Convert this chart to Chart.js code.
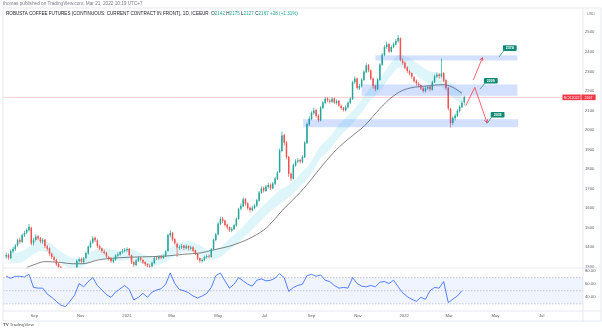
<!DOCTYPE html>
<html>
<head>
<meta charset="utf-8">
<script src="https://cdn.jsdelivr.net/npm/chart.js@4.4.0/dist/chart.umd.min.js"></script>
<style>
  html, body { margin: 0; padding: 0; background: #fff; }
  #wrap { position: relative; width: 602px; height: 332px; overflow: hidden; font-family: "Liberation Sans", Arial, sans-serif; }
  #c { position: absolute; left: 0; top: 0; }
  .t { position: absolute; white-space: nowrap; line-height: 1; }
  .g { color: #26a69a; }
</style>
</head>
<body>
<div id="wrap">
  <canvas id="c" width="602" height="332"></canvas>
  <div class="t" style="left:3px; top:1.8px; font-size:4.7px; color:#787b86;">thomas published on TradingView.com, Mar 21, 2022 10:19 UTC+7</div>
  <div class="t" style="left:6px; top:12px; font-size:4.6px; color:#131722;">ROBUSTA COFFEE FUTURES (CONTINUOUS: CURRENT CONTRACT IN FRONT), 1D, ICEEUR&nbsp; O<span class="g">2142</span> H<span class="g">2175</span> L<span class="g">2127</span> C<span class="g">2167</span> <span class="g">+28 (+1.31%)</span></div>
  <div class="t" style="left:587px; top:12.5px; font-size:3.8px; color:#787b86;">USD</div>
  <div class="t" style="left:3px; top:323px; font-size:4.4px; color:#555;"><b>TV</b> TradingView</div>
</div>
<script>
// Robusta coffee futures, daily chart (sampled every 3 days), Jul 2020 - Mar 2022
// x values are days counted from 1 Sep 2020
const startDay = -37;
const stepDays = 3;

const opens = [
  1352,1362,1344,1378,1390,1410,1438,1426,1460,1474,
  1486,1500,1420,1436,1456,1446,1428,1438,1404,1394,
  1366,1348,1336,1314,1300,1282,1270,1256,1264,1248,
  1268,1280,1328,1340,1324,1344,1368,1400,1424,1448,
  1434,1406,1394,1378,1372,1350,1344,1326,1334,1356,
  1362,1376,1380,1384,1392,1358,1324,1308,1330,1346,
  1334,1324,1314,1304,1302,1318,1346,1342,1352,1344,
  1356,1380,1460,1474,1440,1418,1396,1398,1408,1394,
  1406,1392,1400,1384,1366,1344,1328,1334,1348,1356,
  1350,1388,1436,1466,1518,1546,1536,1516,1502,1484,
  1492,1510,1544,1596,1610,1646,1624,1602,1588,1600,
  1612,1638,1678,1702,1688,1708,1720,1700,1724,1750,
  1784,1892,1974,1936,1862,1776,1750,1818,1838,1846,
  1836,1860,1932,2028,2056,2086,2102,2074,2048,2112,
  2138,2162,2150,2144,2162,2138,2150,2124,2114,2100,
  2116,2138,2158,2244,2264,2212,2224,2256,2296,2332,
  2306,2264,2226,2208,2256,2334,2384,2424,2440,2400,
  2424,2438,2454,2470,2356,2344,2320,2300,2292,2270,
  2252,2236,2230,2214,2198,2212,2222,2206,2244,2274,
  2284,2274,2292,2254,2216,2108,2036,2060,2072,2096,
  2116,2142
];
const highs = [
  1372,1368,1388,1402,1416,1444,1450,1470,1484,1496,
  1518,1504,1448,1466,1462,1452,1446,1442,1412,1398,
  1372,1356,1340,1320,1304,1290,1276,1272,1268,1274,
  1290,1338,1348,1346,1350,1378,1410,1434,1456,1454,
  1440,1414,1400,1388,1376,1356,1350,1344,1364,1374,
  1382,1390,1396,1400,1396,1362,1330,1338,1352,1350,
  1340,1328,1318,1312,1326,1350,1354,1358,1358,1362,
  1384,1470,1486,1478,1446,1424,1410,1416,1412,1414,
  1410,1408,1404,1388,1370,1348,1344,1356,1362,1362,
  1396,1444,1472,1528,1556,1554,1540,1520,1506,1502,
  1520,1552,1602,1624,1656,1652,1630,1608,1612,1622,
  1648,1688,1712,1710,1718,1730,1726,1734,1760,1790,
  1905,1992,1980,1944,1868,1784,1828,1850,1856,1852,
  1870,1942,2038,2070,2096,2114,2108,2080,2122,2148,
  2170,2168,2160,2168,2166,2156,2154,2130,2118,2126,
  2146,2168,2252,2275,2268,2236,2266,2306,2342,2338,
  2310,2268,2232,2266,2342,2394,2434,2452,2444,2432,
  2448,2464,2486,2474,2366,2350,2326,2308,2296,2276,
  2258,2244,2234,2220,2222,2230,2226,2252,2284,2294,
  2290,2365,2296,2258,2220,2114,2070,2084,2106,2126,
  2150,2175
];
const lows = [
  1340,1336,1338,1370,1382,1402,1418,1420,1452,1466,
  1480,1410,1408,1428,1434,1420,1418,1396,1382,1356,
  1340,1326,1304,1290,1276,1260,1248,1248,1240,1242,
  1262,1276,1320,1316,1318,1338,1362,1394,1418,1426,
  1396,1384,1370,1362,1344,1332,1320,1318,1330,1348,
  1356,1366,1372,1376,1352,1314,1300,1302,1324,1328,
  1314,1304,1296,1290,1296,1314,1334,1336,1338,1340,
  1350,1376,1450,1430,1412,1350,1386,1390,1386,1388,
  1384,1384,1374,1360,1334,1320,1322,1328,1342,1344,
  1346,1384,1430,1460,1512,1524,1506,1490,1478,1476,
  1488,1506,1540,1588,1604,1612,1590,1578,1582,1594,
  1606,1632,1672,1680,1682,1700,1692,1696,1718,1744,
  1780,1886,1920,1850,1760,1740,1746,1812,1830,1828,
  1830,1856,1928,2020,2050,2078,2064,2040,2044,2106,
  2132,2142,2136,2138,2132,2130,2118,2104,2094,2096,
  2110,2132,2154,2236,2206,2204,2218,2250,2290,2296,
  2254,2214,2198,2204,2252,2328,2378,2416,2394,2396,
  2418,2432,2448,2350,2334,2310,2292,2280,2262,2242,
  2228,2218,2204,2190,2192,2204,2198,2202,2240,2266,
  2264,2268,2244,2206,2100,2012,2026,2048,2066,2090,
  2112,2127
];
const closes = [
  1360,1345,1380,1392,1408,1436,1428,1462,1472,1488,
  1505,1418,1438,1455,1444,1430,1436,1405,1392,1365,
  1350,1334,1312,1298,1284,1268,1258,1262,1250,1266,
  1278,1330,1338,1326,1342,1370,1402,1425,1446,1435,
  1405,1392,1380,1370,1352,1342,1328,1336,1358,1364,
  1375,1381,1386,1390,1360,1322,1310,1332,1344,1336,
  1322,1312,1306,1300,1320,1345,1343,1350,1346,1354,
  1378,1462,1472,1438,1420,1398,1400,1406,1395,1405,
  1394,1398,1382,1368,1342,1330,1336,1350,1354,1352,
  1390,1438,1465,1520,1544,1534,1514,1500,1486,1494,
  1512,1545,1595,1612,1645,1622,1600,1590,1602,1614,
  1640,1680,1700,1690,1710,1718,1702,1726,1752,1782,
  1895,1972,1935,1860,1775,1752,1820,1840,1845,1838,
  1862,1935,2030,2058,2088,2100,2072,2050,2115,2140,
  2160,2152,2145,2160,2140,2148,2125,2112,2102,2118,
  2140,2160,2245,2262,2215,2225,2258,2298,2330,2305,
  2262,2225,2210,2258,2335,2385,2425,2438,2402,2425,
  2440,2455,2472,2358,2342,2318,2302,2290,2272,2250,
  2238,2228,2212,2200,2214,2220,2208,2245,2275,2283,
  2276,2290,2252,2215,2110,2035,2062,2074,2098,2118,
  2139,2167
];

// dark moving average
const maDays = [-10, 1, 14, 34, 50, 63, 86, 113, 139, 172, 198, 218, 235, 262, 288, 306, 327, 350, 359, 385, 402, 425, 435, 446, 464, 481, 495, 517, 538, 550, 563];
const maValues = [1296, 1312, 1326, 1322, 1315, 1315, 1336, 1346, 1350, 1354, 1364, 1370, 1385, 1411, 1454, 1500, 1590, 1680, 1720, 1845, 1915, 1990, 2022, 2070, 2145, 2195, 2215, 2225, 2232, 2220, 2188];

// light cyan ribbon
const bandDays = [-32,-19,-6,8,21,34,47,60,73,87,100,113,126,139,152,165,179,192,205,218,231,245,258,271,284,297,310,323,337,350,363,376,389,402,416,429,442,455,468,481,495,508,521,534,547,563];
const bandLow = [1320,1320,1350,1380,1365,1325,1295,1295,1320,1340,1335,1330,1335,1320,1305,1310,1340,1370,1375,1355,1335,1350,1390,1430,1480,1530,1580,1620,1660,1710,1765,1850,1900,1965,2020,2080,2150,2200,2270,2320,2300,2265,2235,2225,2180,2130];
const bandHigh = [1370,1375,1405,1435,1420,1380,1350,1340,1370,1395,1390,1380,1390,1370,1355,1360,1395,1425,1430,1410,1385,1400,1445,1490,1545,1595,1645,1690,1725,1775,1830,1915,1965,2030,2085,2145,2215,2265,2335,2385,2365,2330,2300,2290,2245,2195];

// RSI, one value every second candle
const rsiValues = [
  72,69,72,72,71,75,55,54,54,45,
  40,34,28,26,34,43,61,56,64,70,
  58,51,44,40,48,53,58,52,36,40,
  46,40,48,51,53,60,77,61,52,50,
  47,42,39,42,46,55,73,77,65,54,
  60,70,65,60,57,66,68,65,66,69,
  76,70,49,55,58,60,73,75,72,74,
  66,64,58,54,55,54,70,61,57,56,
  58,56,63,64,61,66,56,47,41,37,
  34,40,37,50,55,54,64,32,37,42,
  50
];
const rsiLevels = [70, 50, 30];

// axis ticks
const tickDays = [0, 61, 122, 181, 242, 303, 365, 426, 487, 546, 607, 668];
const tickLabels = ['Sep', 'Nov', '2021', 'Mar', 'May', 'Jul', 'Sep', 'Nov', '2022', 'Mar', 'May', 'Jul'];
const priceTicks = [1300, 1400, 1500, 1600, 1700, 1800, 1900, 2000, 2100, 2200, 2300, 2400, 2500];
const rsiTicks = [40, 60, 80];

// drawings: zones, arrows, price callouts
const zoneStart = [449, 431, 354];
const zoneEnd = [636, 636, 637];
const zoneHigh = [2382, 2233, 2055];
const zoneLow = [2356, 2175, 2014];
const arrowUp = [[578, 2256], [590, 2370]];
const arrowDown = [[568, 2124], [580, 2218], [596, 2037]];
const labelText = ['2374', '2209', '2033'];
const labelDays = [626, 601, 610];
const labelPrices = [2419, 2252, 2078];
const anchorDays = [612, 587, 596];
const anchorPrices = [2374, 2209, 2033];
const tickerName = 'RCK2022';

const up = '#26a69a';
const down = '#ef5350';
const teal = '#0f8a74';
const frame = '#e0e3eb';
const axisText = '#5d606b';

const candleDays = closes.map((c, i) => startDay + stepDays * i);
const rsiDays = candleDays.filter((d, i) => i % 2 === 0);
const candleColors = closes.map((c, i) => c >= opens[i] ? up : down);

function drawArrow(ctx, pts) {
  ctx.beginPath();
  pts.forEach((p, i) => i ? ctx.lineTo(p[0], p[1]) : ctx.moveTo(p[0], p[1]));
  ctx.stroke();
  const [x1, y1] = pts[pts.length - 2];
  const [x2, y2] = pts[pts.length - 1];
  const ang = Math.atan2(y2 - y1, x2 - x1);
  const L = 3.6;
  ctx.beginPath();
  ctx.moveTo(x2 - L * Math.cos(ang - 0.5), y2 - L * Math.sin(ang - 0.5));
  ctx.lineTo(x2, y2);
  ctx.lineTo(x2 - L * Math.cos(ang + 0.5), y2 - L * Math.sin(ang + 0.5));
  ctx.stroke();
}

const overlay = {
  id: 'overlay',
  beforeDatasetsDraw(chart) {
    const {ctx, chartArea: a, scales: {y, y2}} = chart;
    ctx.save();
    // RSI background band and level lines
    const top = y2.getPixelForValue(rsiLevels[0]);
    const bot = y2.getPixelForValue(rsiLevels[2]);
    ctx.fillStyle = 'rgba(41, 98, 255, 0.07)';
    ctx.fillRect(a.left, top, a.right - a.left, bot - top);
    ctx.strokeStyle = '#a3a6af';
    ctx.lineWidth = 0.6;
    ctx.setLineDash([1.5, 1.5]);
    rsiLevels.forEach(v => {
      const py = y2.getPixelForValue(v);
      ctx.beginPath(); ctx.moveTo(a.left, py); ctx.lineTo(a.right, py); ctx.stroke();
    });
    ctx.setLineDash([]);
    // last price line
    const pl = y.getPixelForValue(closes[closes.length - 1]);
    ctx.strokeStyle = 'rgba(242, 54, 69, 0.35)';
    ctx.lineWidth = 0.7;
    ctx.beginPath(); ctx.moveTo(a.left, pl); ctx.lineTo(a.right, pl); ctx.stroke();
    ctx.restore();
  },
  beforeDatasetDraw(chart, args) {
    if (args.meta.yAxisID !== 'y') return;
    const {ctx, chartArea: a, scales: {y}} = chart;
    ctx.save();
    ctx.beginPath();
    ctx.rect(a.left, a.top, a.right - a.left, y.bottom - a.top);
    ctx.clip();
  },
  afterDatasetDraw(chart, args) {
    if (args.meta.yAxisID !== 'y') return;
    chart.ctx.restore();
  },
  afterDatasetsDraw(chart) {
    const {ctx, scales: {x, y}} = chart;
    ctx.save();
    // zones
    ctx.fillStyle = 'rgba(41, 98, 255, 0.2)';
    zoneStart.forEach((d, i) => {
      const x0 = x.getPixelForValue(d), x1 = x.getPixelForValue(zoneEnd[i]);
      const y0 = y.getPixelForValue(zoneHigh[i]), y1 = y.getPixelForValue(zoneLow[i]);
      ctx.fillRect(x0, y0, x1 - x0, y1 - y0);
    });
    // arrows
    ctx.strokeStyle = 'rgba(242, 54, 69, 0.85)';
    ctx.lineWidth = 0.9;
    [arrowUp, arrowDown].forEach(path => {
      drawArrow(ctx, path.map(p => [x.getPixelForValue(p[0]), y.getPixelForValue(p[1])]));
    });
    // price callouts
    labelText.forEach((t, i) => {
      const cx = x.getPixelForValue(labelDays[i]), cy = y.getPixelForValue(labelPrices[i]);
      const ax = x.getPixelForValue(anchorDays[i]), ay = y.getPixelForValue(anchorPrices[i]);
      ctx.strokeStyle = teal;
      ctx.lineWidth = 0.7;
      ctx.beginPath(); ctx.moveTo(ax, ay); ctx.lineTo(cx - 6, cy + 2.5); ctx.stroke();
      ctx.fillStyle = teal;
      ctx.beginPath(); ctx.roundRect(cx - 6.9, cy - 2.8, 13.8, 5.6, 0.8); ctx.fill();
      ctx.fillStyle = '#fff';
      ctx.font = 'bold 3.6px "Liberation Sans", Arial, sans-serif';
      ctx.textAlign = 'center';
      ctx.textBaseline = 'middle';
      ctx.fillText(t, cx, cy + 0.2);
    });
    ctx.restore();
  },
  afterDraw(chart) {
    const {ctx, chartArea: a, scales: {y}} = chart;
    const W = chart.width;
    ctx.save();
    ctx.strokeStyle = frame;
    ctx.lineWidth = 0.8;
    const axisBottom = a.bottom + 10;
    ctx.strokeRect(a.left, a.top, W - 1 - a.left, axisBottom - a.top);
    ctx.beginPath();
    ctx.moveTo(a.right, a.top); ctx.lineTo(a.right, axisBottom);
    ctx.moveTo(a.left, a.bottom); ctx.lineTo(W - 1, a.bottom);
    ctx.moveTo(a.left, y.bottom); ctx.lineTo(W - 1, y.bottom);
    ctx.stroke();
    // last price tag
    const last = closes[closes.length - 1];
    const py = y.getPixelForValue(last);
    ctx.fillStyle = '#f23645';
    ctx.fillRect(a.right - 20.5, py - 2.8, 18.2, 5.6);
    ctx.fillRect(a.right - 1.6, py - 2.8, 14.2, 5.6);
    ctx.fillStyle = '#fff';
    ctx.font = '3.6px "Liberation Sans", Arial, sans-serif';
    ctx.textAlign = 'center';
    ctx.textBaseline = 'middle';
    ctx.fillText(tickerName, a.right - 11.4, py + 0.2);
    ctx.fillText(String(last), a.right + 5.5, py + 0.2);
    ctx.restore();
  }
};

const tickFont = {size: 4.2, family: '"Liberation Sans", Arial, sans-serif'};

new Chart(document.getElementById('c'), {
  type: 'bar',
  data: {
    datasets: [
      {
        type: 'bar', label: 'body', yAxisID: 'y', order: 1,
        data: candleDays.map((d, i) => ({x: d, y: [opens[i], closes[i]]})),
        backgroundColor: candleColors, borderWidth: 0, grouped: false,
        maxBarThickness: 1.5, inflateAmount: 0, minBarLength: 0.6
      },
      {
        type: 'bar', label: 'wick', yAxisID: 'y', order: 2,
        data: candleDays.map((d, i) => ({x: d, y: [lows[i], highs[i]]})),
        backgroundColor: candleColors, borderWidth: 0, grouped: false,
        maxBarThickness: 0.7, inflateAmount: 0
      },
      {
        type: 'line', label: 'ma', yAxisID: 'y', order: 5,
        data: maDays.map((d, i) => ({x: d, y: maValues[i]})),
        borderColor: 'rgba(50, 50, 50, 0.8)', borderWidth: 0.75,
        pointRadius: 0, cubicInterpolationMode: 'monotone', fill: false
      },
      {
        type: 'line', label: 'bandHigh', yAxisID: 'y', order: 9,
        data: bandDays.map((d, i) => ({x: d, y: bandHigh[i]})),
        borderWidth: 0, borderColor: 'rgba(0,0,0,0)', pointRadius: 0,
        cubicInterpolationMode: 'monotone', fill: false
      },
      {
        type: 'line', label: 'bandLow', yAxisID: 'y', order: 10,
        data: bandDays.map((d, i) => ({x: d, y: bandLow[i]})),
        borderWidth: 0, borderColor: 'rgba(0,0,0,0)', pointRadius: 0,
        cubicInterpolationMode: 'monotone',
        fill: '-1', backgroundColor: 'rgba(128, 222, 234, 0.26)'
      },
      {
        type: 'line', label: 'rsi', yAxisID: 'y2', order: 0,
        data: rsiDays.map((d, i) => ({x: d, y: rsiValues[i]})),
        borderColor: '#2962ff', borderWidth: 0.8, pointRadius: 0, tension: 0, fill: false
      }
    ]
  },
  options: {
    responsive: false,
    animation: false,
    events: [],
    layout: {padding: {left: 3, top: 8, right: 0, bottom: 0}},
    plugins: {legend: {display: false}, tooltip: {enabled: false}},
    scales: {
      x: {
        type: 'linear', min: -41.2, max: 722.4, offset: false,
        grid: {display: false, drawTicks: false}, border: {display: false},
        afterBuildTicks: s => { s.ticks = tickDays.map(v => ({value: v})); },
        afterFit: s => { s.height = 21; },
        ticks: {
          autoSkip: false, maxRotation: 0, padding: 2, color: axisText, font: tickFont,
          callback: (v, i) => tickLabels[i]
        }
      },
      y: {
        type: 'linear', position: 'right', stack: 'pane', stackWeight: 260,
        min: 1293.2, max: 2624.4,
        grid: {display: false, drawTicks: false}, border: {display: false},
        afterBuildTicks: s => { s.ticks = priceTicks.map(v => ({value: v})); },
        afterFit: s => { s.width = 19; },
        ticks: {padding: 2, color: axisText, font: tickFont, callback: v => String(v)}
      },
      y2: {
        type: 'linear', position: 'right', stack: 'pane', stackWeight: 43,
        min: 19.2, max: 84.6,
        grid: {display: false, drawTicks: false}, border: {display: false},
        afterBuildTicks: s => { s.ticks = rsiTicks.map(v => ({value: v})); },
        afterFit: s => { s.width = 19; },
        ticks: {padding: 2, color: axisText, font: tickFont, callback: v => v.toFixed(2)}
      }
    }
  },
  plugins: [overlay]
});
</script>
</body>
</html>
